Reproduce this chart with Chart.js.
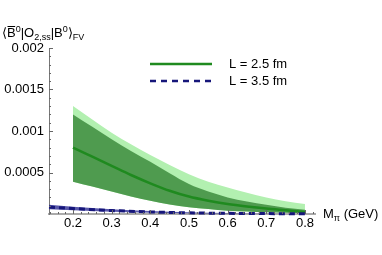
<!DOCTYPE html>
<html>
<head>
<meta charset="utf-8">
<script src="https://cdn.jsdelivr.net/npm/chart.js@4"></script>
<style>
  html, body { margin: 0; padding: 0; background: #fff; }
  #wrap { width: 382px; height: 255px; }
</style>
</head>
<body>
<div id="wrap"><canvas id="chart-me" width="382" height="255"></canvas></div>
<script>
// pion masses (GeV)
const mpiL25 = [0.2, 0.25, 0.3, 0.35, 0.4, 0.45, 0.5, 0.55, 0.6, 0.65, 0.7, 0.75, 0.8];
const mpiL35 = [0.138, 0.2, 0.3, 0.4, 0.5, 0.6, 0.7, 0.8];

// L = 2.5 fm : central curve, inner band, outer band top
const l25Central = [0.00080, 0.00069, 0.00058, 0.00047, 0.00037, 0.00028, 0.00021, 0.00016, 0.00012, 0.00009, 0.000065, 0.000045, 0.000025];
const l25InnerTop = [0.00120, 0.00105, 0.00090, 0.00076, 0.00063, 0.00049, 0.00036, 0.00027, 0.00020, 0.00015, 0.00011, 0.000075, 0.00005];
const l25Bottom = [0.00039, 0.00033, 0.00027, 0.00021, 0.00016, 0.000115, 0.00008, 0.00006, 0.00004, 0.00003, 0.00002, 0.000015, 0.00001];
const l25OuterTop = [0.00130, 0.00114, 0.00098, 0.00084, 0.00071, 0.00059, 0.00048, 0.00039, 0.00032, 0.000255, 0.00020, 0.000155, 0.00012];

// L = 3.5 fm
const l35Central = [0.000084, 0.000066, 0.000042, 0.000025, 0.000014, 0.000008, 0.000005, 0.000003];
const l35Top = [0.00011, 0.000088, 0.000058, 0.000036, 0.000021, 0.000012, 0.000007, 0.000004];
const l35Bottom = [0.000056, 0.000045, 0.000028, 0.000016, 0.000009, 0.000005, 0.000003, 0.000002];

const seriesLabels = ["L = 2.5 fm", "L = 3.5 fm"];
const xTicks = [0.2, 0.3, 0.4, 0.5, 0.6, 0.7, 0.8];
const yTicks = [0.0005, 0.001, 0.0015, 0.002];
const yTickLabels = ["0.0005", "0.001", "0.0015", "0.002"];

const FONT = "Liberation Sans, Arial, Helvetica, sans-serif";
const GREEN_LINE = "#1f8a1f";
const NAVY = "#16167a";

function pts(xs, ys) {
  return xs.map((x, i) => ({ x: x, y: ys[i] }));
}

// axis ticks (inward), titles and legend
const decorPlugin = {
  id: "decor",
  afterDraw: function(chart) {
    const ctx = chart.ctx;
    const xs = chart.scales.x;
    const ys = chart.scales.y;
    const area = chart.chartArea;
    ctx.save();
    ctx.strokeStyle = "#666";
    ctx.lineWidth = 1;
    // x ticks
    for (let v = 0.14; v <= 0.821; v += 0.02) {
      const major = Math.abs(v * 10 - Math.round(v * 10)) < 1e-6;
      const px = Math.round(xs.getPixelForValue(v)) + 0.5;
      ctx.beginPath();
      ctx.moveTo(px, area.bottom);
      ctx.lineTo(px, area.bottom - (major ? 4 : 2));
      ctx.stroke();
    }
    // y ticks
    for (let v = 0.0001; v <= 0.00201; v += 0.0001) {
      const major = Math.abs(v / 0.0005 - Math.round(v / 0.0005)) < 1e-6;
      const py = Math.round(ys.getPixelForValue(v)) + 0.5;
      ctx.beginPath();
      ctx.moveTo(area.left, py);
      ctx.lineTo(area.left + (major ? 4 : 2), py);
      ctx.stroke();
    }

    ctx.fillStyle = "#000";
    ctx.textBaseline = "alphabetic";
    ctx.textAlign = "left";
    // y axis title  <B0|O2,ss|B0>FV
    const parts = [
      ["\u27E8", 13, 0], ["B", 13, 0, true], ["0", 9, -5], ["|O", 13, 0], ["2,ss", 9, 3],
      ["|B", 13, 0], ["0", 9, -5], ["\u27E9", 13, 0], ["FV", 9, 3]
    ];
    let x = 2;
    const base = 37;
    parts.forEach(p => {
      ctx.font = p[1] + "px " + FONT;
      ctx.fillText(p[0], x, base + p[2]);
      const w = ctx.measureText(p[0]).width;
      if (p[3]) {
        ctx.beginPath();
        ctx.strokeStyle = "#000";
        ctx.lineWidth = 1;
        ctx.moveTo(x + 0.5, base - 10.5);
        ctx.lineTo(x + w - 0.5, base - 10.5);
        ctx.stroke();
      }
      x += w;
    });

    // x axis title  M_pi (GeV)
    let tx = 323;
    const tb = 218;
    ctx.font = "13px " + FONT;
    ctx.fillText("M", tx, tb);
    tx += ctx.measureText("M").width;
    ctx.font = "9px " + FONT;
    ctx.fillText("\u03C0", tx, tb + 3);
    tx += ctx.measureText("\u03C0").width;
    ctx.font = "13px " + FONT;
    ctx.fillText(" (GeV)", tx, tb);

    // legend
    ctx.lineWidth = 2.5;
    ctx.strokeStyle = GREEN_LINE;
    ctx.beginPath();
    ctx.moveTo(150, 64);
    ctx.lineTo(212, 64);
    ctx.stroke();
    ctx.strokeStyle = NAVY;
    ctx.setLineDash([6, 5]);
    ctx.beginPath();
    ctx.moveTo(150, 81);
    ctx.lineTo(212, 81);
    ctx.stroke();
    ctx.setLineDash([]);
    ctx.font = "13px " + FONT;
    ctx.textBaseline = "middle";
    ctx.fillText(seriesLabels[0], 229, 64);
    ctx.fillText(seriesLabels[1], 229, 81);
    ctx.restore();
  }
};

const ctx = document.getElementById("chart-me").getContext("2d");
new Chart(ctx, {
  type: "line",
  data: {
    datasets: [
      { // 0 L=3.5 central dashed
        data: pts(mpiL35, l35Central),
        borderColor: NAVY, borderWidth: 3, borderDash: [6, 4],
        pointRadius: 0, fill: false, cubicInterpolationMode: "monotone", clip: 6
      },
      { // 1 L=3.5 band top
        data: pts(mpiL35, l35Top),
        borderWidth: 0, pointRadius: 0, backgroundColor: "rgba(60,60,155,0.85)",
        fill: 2, cubicInterpolationMode: "monotone", clip: 6
      },
      { // 2 L=3.5 band bottom
        data: pts(mpiL35, l35Bottom),
        borderWidth: 0, pointRadius: 0, fill: false, cubicInterpolationMode: "monotone", clip: 6
      },
      { // 3 L=2.5 central
        data: pts(mpiL25, l25Central),
        borderColor: GREEN_LINE, borderWidth: 2.5,
        pointRadius: 0, fill: false, cubicInterpolationMode: "monotone"
      },
      { // 4 inner band
        data: pts(mpiL25, l25InnerTop),
        borderWidth: 0, pointRadius: 0, backgroundColor: "#4f9b4f",
        fill: 6, cubicInterpolationMode: "monotone"
      },
      { // 5 outer band
        data: pts(mpiL25, l25OuterTop),
        borderWidth: 0, pointRadius: 0, backgroundColor: "#b2f0b0",
        fill: 6, cubicInterpolationMode: "monotone"
      },
      { // 6 band bottom
        data: pts(mpiL25, l25Bottom),
        borderWidth: 0, pointRadius: 0, fill: false, cubicInterpolationMode: "monotone"
      }
    ]
  },
  options: {
    responsive: false,
    devicePixelRatio: 1,
    animation: false,
    layout: { padding: { top: 48, right: 67, left: 0, bottom: 0 } },
    plugins: {
      legend: { display: false },
      tooltip: { enabled: false },
      filler: { propagate: false }
    },
    scales: {
      x: {
        type: "linear",
        min: 0.138,
        max: 0.826,
        afterFit: function(s) { s.height = 41; },
        afterBuildTicks: function(s) { s.ticks = xTicks.map(v => ({ value: v })); },
        grid: { display: false, drawTicks: false },
        border: { display: true, color: "#aaa", width: 2 },
        ticks: {
          autoSkip: false, maxRotation: 0, padding: 2, color: "#000",
          font: { family: FONT, size: 13 },
          callback: function(value) { return value.toFixed(1); }
        }
      },
      y: {
        min: 0,
        max: 0.002,
        afterFit: function(s) { s.width = 49; },
        afterBuildTicks: function(s) { s.ticks = yTicks.map(v => ({ value: v })); },
        grid: { display: false, drawTicks: false },
        border: { display: true, color: "#777", width: 1 },
        ticks: {
          padding: 5, color: "#000",
          font: { family: FONT, size: 13 },
          callback: function(value) {
            const i = yTicks.findIndex(t => Math.abs(t - value) < 1e-9);
            return i >= 0 ? yTickLabels[i] : "";
          }
        }
      }
    }
  },
  plugins: [decorPlugin]
});
</script>
</body>
</html>
